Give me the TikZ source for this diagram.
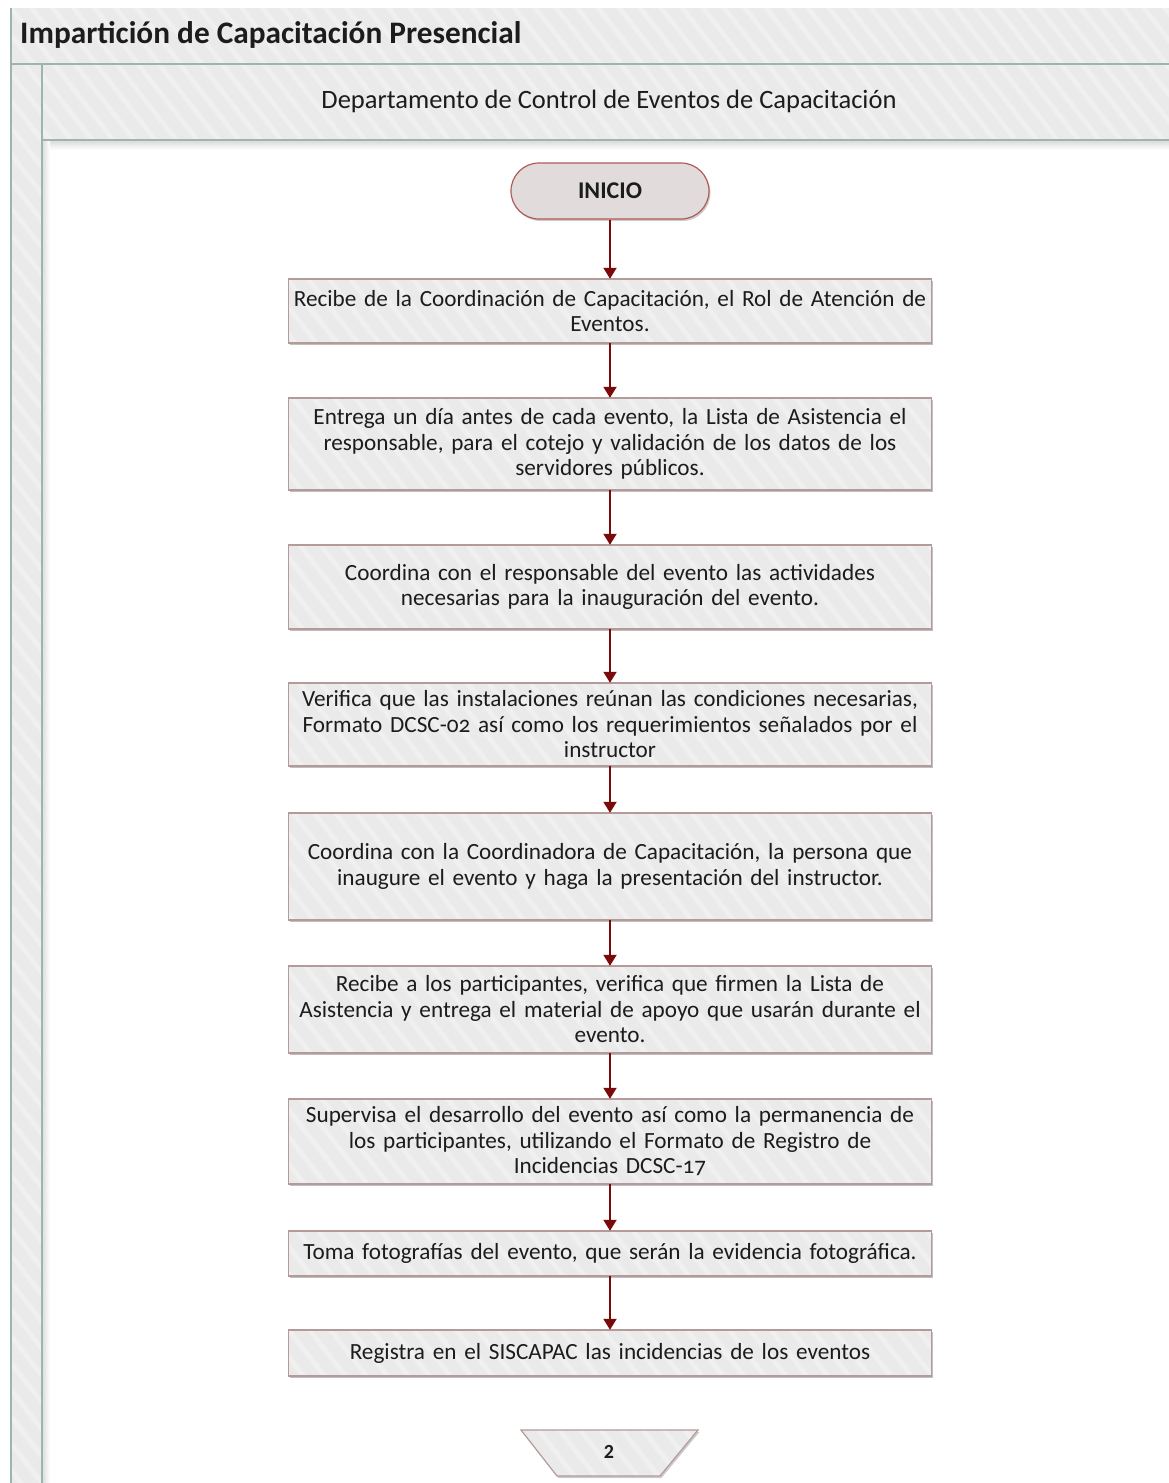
\documentclass[tikz,border=0pt]{standalone}
\usepackage{fontspec}
\setmainfont{Carlito}[Numbers=OldStyle]
\usetikzlibrary{arrows.meta,shadows,patterns.meta}
\definecolor{bgGray}{HTML}{EAEAEA}
\definecolor{stripe}{HTML}{F0F0F0}
\definecolor{poolLine}{HTML}{9DB5AD}
\definecolor{boxBorder}{HTML}{B59A9A}
\definecolor{startFill}{HTML}{E1DBDC}
\definecolor{startBorder}{HTML}{B05A5A}
\definecolor{flowRed}{HTML}{7A0A0A}
\definecolor{txt}{HTML}{1C1C1C}
\tikzset{
  hatch/.style={fill=bgGray, postaction={pattern={Lines[angle=-52,distance=17pt,line width=5pt]}, pattern color=stripe}},
  poolline/.style={draw=poolLine, line width=1.5pt},
  proc/.style={hatch, postaction={draw=boxBorder, line width=1.2pt}, minimum width=643pt, inner sep=1pt,
    text width=641pt, align=center, font=\fontsize{23.2}{25.5}\selectfont, text=txt,
    drop shadow={shadow xshift=1.5pt, shadow yshift=-2pt, opacity=0.25, fill=black}},
  startnode/.style={draw=startBorder, line width=1.2pt, fill=startFill, rounded corners=28pt,
    minimum width=198pt, minimum height=56pt, font=\fontsize{24}{28}\selectfont\bfseries, text=txt,
    drop shadow={shadow xshift=1.5pt, shadow yshift=-2pt, opacity=0.2, fill=black}},
  flow/.style={draw=flowRed, line width=2pt, -{Triangle[width=13pt,length=11pt]}},
}
\begin{document}
\begin{tikzpicture}[x=1pt,y=-1pt]
\useasboundingbox (0,0) rectangle (1169,1483);
\clip (0,0) rectangle (1169,1483);
\fill[white] (0,0) rectangle (1169,1483);
% pool and lane
\path[hatch] (11,8) rectangle (1200,64);
\path[hatch] (11,64) rectangle (42,1500);
\path[hatch] (42,64) rectangle (1200,140);
\shade[top color=black!15, bottom color=white] (42,140) rectangle (1200,150);
\shade[left color=black!12, right color=white] (43,140) rectangle (50,1500);
\draw[poolline] (11,8) -- (11,1500);
\draw[poolline] (11,64) -- (1200,64);
\draw[poolline] (42,64) -- (42,1500);
\draw[poolline] (42,140) -- (1200,140);
\node[anchor=west, text=txt, font=\fontsize{31.3}{35}\selectfont\bfseries, inner sep=0pt] (title) at (20,35) {Impartición de Capacitación Presencial};
\node[text=txt, font=\fontsize{26.5}{30}\selectfont, inner sep=0pt] (lane) at (609,101) {Departamento de Control de Eventos de Capacitación};
% flow
\node[startnode] (inicio) at (610,191) {INICIO};
\node[proc, minimum height=64pt] (b1) at (610,311) {Recibe de la Coordinación de Capacitación, el Rol de Atención de\\Eventos.};
\node[proc, minimum height=92pt] (b2) at (610,444) {Entrega un día antes de cada evento, la Lista de Asistencia el\\responsable, para el cotejo y validación de los datos de los\\servidores públicos.};
\node[proc, minimum height=84pt] (b3) at (610,587) {Coordina con el responsable del evento las actividades\\necesarias para la inauguración del evento.};
\node[proc, minimum height=83pt] (b4) at (610,724.5) {Verifica que las instalaciones reúnan las condiciones necesarias,\\Formato DCSC-02 así como los requerimientos señalados por el\\instructor};
\node[proc, minimum height=107pt] (b5) at (610,866.5) {Coordina con la Coordinadora de Capacitación, la persona que\\inaugure el evento y haga la presentación del instructor.};
\node[proc, minimum height=87pt] (b6) at (610,1009.5) {Recibe a los participantes, verifica que firmen la Lista de\\Asistencia y entrega el material de apoyo que usarán durante el\\evento.};
\node[proc, minimum height=85pt] (b7) at (610,1141.5) {Supervisa el desarrollo del evento así como la permanencia de\\los participantes, utilizando el Formato de Registro de\\Incidencias DCSC-17};
\node[proc, minimum height=45pt] (b8) at (610,1253.5) {Toma fotografías del evento, que serán la evidencia fotográfica.};
\node[proc, minimum height=46pt] (b9) at (610,1353) {Registra en el SISCAPAC las incidencias de los eventos};
% off-page connector
\path[hatch, postaction={draw=boxBorder, line width=1.2pt}, drop shadow={shadow xshift=1.5pt, shadow yshift=-2pt, opacity=0.2, fill=black}]
  (521,1430) -- (698,1430) -- (660,1476) -- (557,1476) -- cycle;
\node[text=txt, font=\fontsize{20}{22}\selectfont\bfseries\addfontfeatures{Numbers=Lining}] (c2) at (609,1452) {2};
% arrows
\draw[flow] (inicio) -- (b1);
\draw[flow] (b1) -- (b2);
\draw[flow] (b2) -- (b3);
\draw[flow] (b3) -- (b4);
\draw[flow] (b4) -- (b5);
\draw[flow] (b5) -- (b6);
\draw[flow] (b6) -- (b7);
\draw[flow] (b7) -- (b8);
\draw[flow] (b8) -- (b9);
\end{tikzpicture}
\end{document}
